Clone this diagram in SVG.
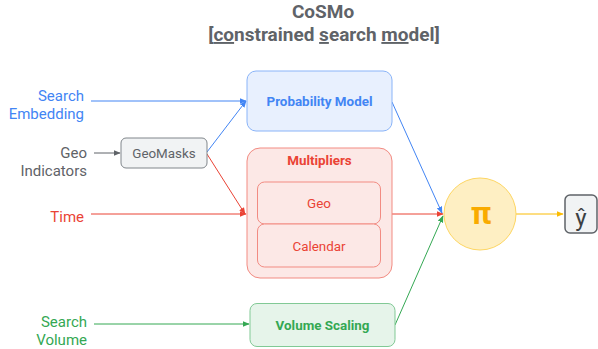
<svg xmlns="http://www.w3.org/2000/svg" width="598" height="349" viewBox="0 0 598 349">
  <defs>
    <marker id="ah-blue" viewBox="0 0 10 10" refX="9" refY="5" markerWidth="7" markerHeight="7" orient="auto"><path d="M0,1 L10,5 L0,9 z" fill="#4285f4"/></marker>
    <marker id="ah-red" viewBox="0 0 10 10" refX="9" refY="5" markerWidth="7" markerHeight="7" orient="auto"><path d="M0,1 L10,5 L0,9 z" fill="#ea4335"/></marker>
    <marker id="ah-green" viewBox="0 0 10 10" refX="9" refY="5" markerWidth="7" markerHeight="7" orient="auto"><path d="M0,1 L10,5 L0,9 z" fill="#34a853"/></marker>
    <marker id="ah-gray" viewBox="0 0 10 10" refX="9" refY="5" markerWidth="7" markerHeight="7" orient="auto"><path d="M0,1 L10,5 L0,9 z" fill="#5f6368"/></marker>
    <marker id="ah-gold" viewBox="0 0 10 10" refX="9" refY="5" markerWidth="7" markerHeight="7" orient="auto"><path d="M0,1 L10,5 L0,9 z" fill="#fbbc04"/></marker>
  </defs>
  <style>
    text { font-family: Roboto, "Liberation Sans", sans-serif; }
    .title { font-size: 19px; font-weight: bold; fill: #5f6368; text-anchor: middle; }
    .lbl { font-size: 15px; text-anchor: end; }
    .box { font-size: 13.4px; text-anchor: middle; }
    .bold { font-weight: bold; }
    .wire { fill: none; stroke-width: 1; }
  </style>
  <rect width="598" height="349" fill="#ffffff"/>

  <!-- heading -->
  <g id="title">
    <text class="title" x="323" y="18">CoSMo</text>
    <text class="title" x="324" y="41">[<tspan text-decoration="underline">co</tspan>nstrained <tspan text-decoration="underline">s</tspan>earch <tspan text-decoration="underline">mo</tspan>del]</text>
  </g>

  <!-- input labels -->
  <g id="in-embedding">
    <text class="lbl" x="84" y="101" fill="#4285f4">Search</text>
    <text class="lbl" x="84" y="119" fill="#4285f4">Embedding</text>
  </g>
  <g id="in-geo">
    <text class="lbl" x="87" y="158" fill="#5f6368">Geo</text>
    <text class="lbl" x="87" y="176" fill="#5f6368">Indicators</text>
  </g>
  <g id="in-time">
    <text class="lbl" x="84" y="222" fill="#ea4335">Time</text>
  </g>
  <g id="in-volume">
    <text class="lbl" x="87" y="327" fill="#34a853">Search</text>
    <text class="lbl" x="87" y="345" fill="#34a853">Volume</text>
  </g>

  <!-- connectors -->
  <g id="connectors">
    <line class="wire" x1="91" y1="101" x2="246" y2="101" stroke="#4285f4" marker-end="url(#ah-blue)"/>
    <line class="wire" x1="94" y1="153" x2="120" y2="153" stroke="#5f6368" marker-end="url(#ah-gray)"/>
    <line class="wire" x1="207" y1="152" x2="246" y2="101" stroke="#4285f4" marker-end="url(#ah-blue)"/>
    <line class="wire" x1="207" y1="154" x2="245" y2="214" stroke="#ea4335" marker-end="url(#ah-red)"/>
    <line class="wire" x1="91" y1="214" x2="246" y2="214" stroke="#ea4335" marker-end="url(#ah-red)"/>
    <line class="wire" x1="94" y1="324" x2="249" y2="324" stroke="#34a853" marker-end="url(#ah-green)"/>
    <line class="wire" x1="392" y1="102" x2="442" y2="213" stroke="#4285f4" marker-end="url(#ah-blue)"/>
    <line class="wire" x1="392" y1="214" x2="443" y2="214" stroke="#ea4335" marker-end="url(#ah-red)"/>
    <line class="wire" x1="395" y1="325" x2="443" y2="216" stroke="#34a853" marker-end="url(#ah-green)"/>
    <line class="wire" x1="516" y1="214" x2="563" y2="214" stroke="#fbbc04" marker-end="url(#ah-gold)"/>
  </g>

  <g id="geomasks">
    <rect x="121" y="138" width="86" height="30" rx="5" fill="#f1f3f4" stroke="#80868b"/>
    <text class="box" x="164" y="158" fill="#5f6368">GeoMasks</text>
  </g>

  <g id="probability-model">
    <rect x="247" y="71" width="145" height="60" rx="9" fill="#e8f0fe" stroke="#8ab4f8"/>
    <text class="box bold" x="319.5" y="106" fill="#4285f4">Probability Model</text>
  </g>

  <g id="multipliers">
    <rect x="247" y="148" width="145" height="130" rx="13" fill="#fce8e6" stroke="#f28b82"/>
    <text class="box bold" x="319.5" y="165" fill="#ea4335">Multipliers</text>
    <g id="mult-geo">
      <rect x="257.5" y="182" width="123" height="42" rx="7" fill="#fce8e6" stroke="#f28b82"/>
      <text class="box" x="319" y="208" fill="#ea4335">Geo</text>
    </g>
    <g id="mult-calendar">
      <rect x="257.5" y="224" width="123" height="43" rx="7" fill="#fce8e6" stroke="#f28b82"/>
      <text class="box" x="319" y="250.5" fill="#ea4335">Calendar</text>
    </g>
  </g>

  <g id="volume-scaling">
    <rect x="250" y="303.5" width="145" height="43" rx="7" fill="#e6f4ea" stroke="#81c995"/>
    <text class="box bold" x="322.5" y="330" fill="#34a853">Volume Scaling</text>
  </g>

  <g id="product">
    <circle cx="480" cy="214" r="36" fill="#feefc3" stroke="#fdd663"/>
    <text x="481" y="224" font-family="'DejaVu Sans', sans-serif" font-size="32" font-weight="bold" fill="#f9ab00" text-anchor="middle">π</text>
  </g>

  <g id="output">
    <rect x="565" y="195" width="32" height="38" rx="5" fill="#f1f3f4" stroke="#5f6368" stroke-width="1.5"/>
    <text x="581" y="226" font-family="'DejaVu Sans', sans-serif" font-size="24" fill="#3c4043" text-anchor="middle">ŷ</text>
  </g>
</svg>
